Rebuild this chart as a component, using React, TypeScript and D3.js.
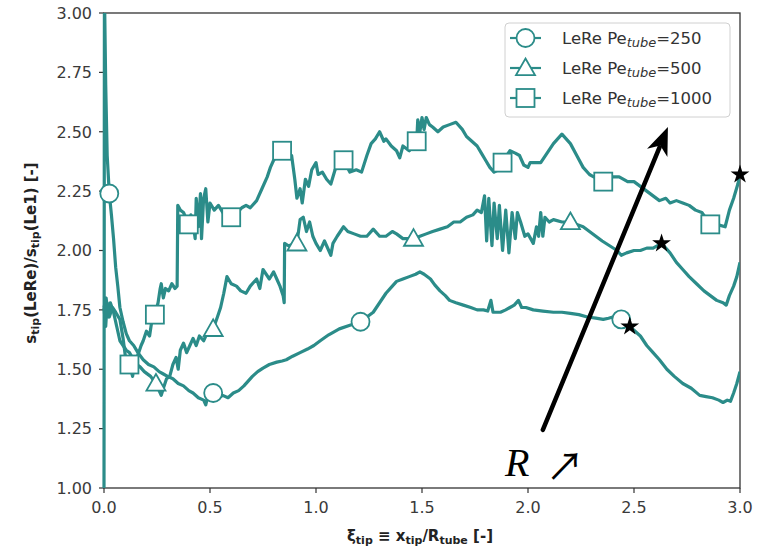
import React from "react";
import * as d3 from "d3";

const xTicks = [0, 0.5, 1.0, 1.5, 2.0, 2.5, 3.0];
const yTicks = [1.0, 1.25, 1.5, 1.75, 2.0, 2.25, 2.5, 2.75, 3.0];

const pe250: [number, number][] = [
[0,1.0],[0.002,3.1],[0.008,2.7],[0.015,2.4],[0.025,2.24],[0.035,2.15],[0.045,2.05],[0.055,1.93],[0.065,1.85],[0.075,1.76],[0.09,1.70],[0.105,1.65],[0.12,1.62],[0.14,1.60],[0.16,1.57],[0.185,1.54],[0.21,1.52],[0.235,1.51],[0.26,1.49],[0.28,1.48],[0.30,1.47],[0.325,1.46],[0.35,1.44],[0.375,1.43],[0.40,1.41],[0.42,1.40],[0.445,1.38],[0.47,1.37],[0.48,1.35],[0.49,1.39],[0.50,1.37],[0.515,1.40],[0.54,1.38],[0.56,1.39],[0.585,1.38],[0.61,1.40],[0.635,1.41],[0.66,1.43],[0.68,1.45],[0.70,1.47],[0.725,1.49],[0.75,1.505],[0.78,1.52],[0.815,1.53],[0.84,1.535],[0.86,1.54],[0.89,1.555],[0.925,1.57],[0.96,1.585],[0.99,1.60],[1.02,1.62],[1.06,1.645],[1.11,1.67],[1.16,1.685],[1.21,1.70],[1.24,1.72],[1.27,1.74],[1.30,1.78],[1.33,1.82],[1.36,1.85],[1.38,1.87],[1.41,1.88],[1.44,1.89],[1.47,1.90],[1.49,1.91],[1.51,1.90],[1.54,1.88],[1.56,1.855],[1.585,1.83],[1.61,1.81],[1.63,1.79],[1.66,1.78],[1.695,1.77],[1.73,1.76],[1.76,1.75],[1.79,1.75],[1.81,1.745],[1.825,1.79],[1.835,1.74],[1.87,1.74],[1.895,1.75],[1.915,1.76],[1.935,1.77],[1.955,1.79],[1.97,1.76],[1.99,1.76],[2.025,1.75],[2.07,1.745],[2.12,1.74],[2.16,1.74],[2.20,1.735],[2.24,1.73],[2.28,1.72],[2.32,1.715],[2.355,1.71],[2.38,1.715],[2.40,1.72],[2.44,1.71],[2.48,1.68],[2.53,1.64],[2.56,1.60],[2.59,1.57],[2.62,1.54],[2.655,1.50],[2.69,1.47],[2.73,1.44],[2.77,1.42],[2.81,1.39],[2.84,1.385],[2.87,1.38],[2.90,1.37],[2.92,1.36],[2.94,1.37],[2.955,1.365],[2.97,1.40],[2.985,1.44],[3.0,1.49]
];

const pe500: [number, number][] = [
[0,1.76],[0.01,1.80],[0.02,1.72],[0.03,1.78],[0.045,1.74],[0.06,1.68],[0.075,1.62],[0.09,1.60],[0.105,1.58],[0.12,1.57],[0.14,1.54],[0.155,1.52],[0.17,1.51],[0.19,1.49],[0.22,1.47],[0.245,1.44],[0.26,1.41],[0.27,1.39],[0.28,1.42],[0.295,1.46],[0.31,1.47],[0.325,1.52],[0.34,1.55],[0.35,1.50],[0.36,1.58],[0.375,1.61],[0.39,1.57],[0.405,1.60],[0.42,1.63],[0.435,1.60],[0.45,1.64],[0.47,1.62],[0.49,1.66],[0.515,1.67],[0.535,1.72],[0.55,1.76],[0.565,1.82],[0.58,1.89],[0.60,1.86],[0.625,1.85],[0.645,1.83],[0.67,1.82],[0.69,1.85],[0.72,1.88],[0.735,1.84],[0.75,1.92],[0.765,1.90],[0.78,1.88],[0.80,1.91],[0.815,1.88],[0.83,1.85],[0.845,1.81],[0.85,1.78],[0.852,2.03],[0.87,2.02],[0.91,2.03],[0.925,2.13],[0.94,2.14],[0.955,2.08],[0.97,2.12],[0.985,2.06],[1.0,2.03],[1.02,2.0],[1.04,2.04],[1.05,2.02],[1.07,1.98],[1.08,2.03],[1.10,2.06],[1.13,2.10],[1.15,2.08],[1.18,2.07],[1.21,2.06],[1.24,2.06],[1.27,2.09],[1.30,2.06],[1.33,2.06],[1.36,2.08],[1.38,2.07],[1.41,2.05],[1.46,2.05],[1.49,2.06],[1.52,2.07],[1.55,2.08],[1.585,2.09],[1.62,2.10],[1.65,2.12],[1.68,2.12],[1.71,2.14],[1.74,2.15],[1.76,2.17],[1.78,2.16],[1.795,2.23],[1.805,2.04],[1.815,2.22],[1.83,2.02],[1.84,2.20],[1.855,2.05],[1.865,2.19],[1.88,2.00],[1.895,2.17],[1.91,1.99],[1.925,2.16],[1.94,2.05],[1.95,2.16],[1.965,2.12],[1.985,2.06],[2.0,2.07],[2.025,2.03],[2.04,2.10],[2.05,2.06],[2.06,2.16],[2.07,2.06],[2.08,2.14],[2.10,2.12],[2.12,2.13],[2.16,2.12],[2.20,2.12],[2.23,2.11],[2.26,2.10],[2.29,2.08],[2.32,2.06],[2.35,2.04],[2.385,2.02],[2.42,2.00],[2.44,1.98],[2.465,1.99],[2.50,2.00],[2.53,2.00],[2.56,2.01],[2.59,2.01],[2.63,2.03],[2.67,1.99],[2.70,1.95],[2.73,1.92],[2.76,1.89],[2.795,1.86],[2.83,1.83],[2.86,1.81],[2.89,1.79],[2.92,1.78],[2.935,1.77],[2.95,1.81],[2.97,1.85],[2.985,1.89],[3.0,1.95]
];

const pe1000: [number, number][] = [
[0,1.76],[0.008,1.68],[0.015,1.78],[0.025,1.72],[0.04,1.76],[0.055,1.74],[0.075,1.71],[0.09,1.63],[0.10,1.56],[0.12,1.52],[0.135,1.47],[0.145,1.53],[0.16,1.56],[0.175,1.60],[0.185,1.62],[0.20,1.66],[0.215,1.64],[0.225,1.70],[0.24,1.73],[0.255,1.78],[0.265,1.84],[0.27,1.86],[0.28,1.80],[0.29,1.84],[0.305,1.83],[0.32,1.86],[0.335,1.84],[0.345,1.85],[0.348,2.19],[0.36,2.17],[0.375,2.16],[0.40,2.11],[0.41,2.15],[0.42,2.12],[0.43,2.05],[0.435,2.22],[0.445,2.10],[0.455,2.24],[0.46,2.05],[0.47,2.22],[0.48,2.26],[0.49,2.12],[0.50,2.20],[0.52,2.17],[0.54,2.19],[0.56,2.16],[0.60,2.14],[0.63,2.16],[0.65,2.18],[0.67,2.19],[0.69,2.18],[0.72,2.21],[0.745,2.26],[0.77,2.31],[0.785,2.35],[0.80,2.38],[0.82,2.40],[0.84,2.42],[0.865,2.40],[0.885,2.40],[0.90,2.30],[0.91,2.22],[0.925,2.26],[0.935,2.20],[0.95,2.30],[0.965,2.27],[0.98,2.34],[1.0,2.37],[1.01,2.32],[1.03,2.33],[1.05,2.30],[1.07,2.28],[1.09,2.34],[1.13,2.38],[1.16,2.33],[1.19,2.34],[1.215,2.33],[1.24,2.40],[1.26,2.45],[1.28,2.47],[1.30,2.50],[1.32,2.46],[1.33,2.47],[1.355,2.44],[1.38,2.42],[1.395,2.39],[1.41,2.44],[1.44,2.42],[1.475,2.46],[1.48,2.55],[1.49,2.50],[1.50,2.56],[1.51,2.51],[1.52,2.56],[1.535,2.53],[1.55,2.52],[1.575,2.50],[1.60,2.52],[1.63,2.53],[1.66,2.54],[1.69,2.51],[1.71,2.48],[1.735,2.46],[1.76,2.44],[1.78,2.41],[1.80,2.38],[1.82,2.35],[1.84,2.33],[1.86,2.34],[1.88,2.37],[1.90,2.40],[1.915,2.42],[1.94,2.41],[1.96,2.40],[1.98,2.36],[2.0,2.35],[2.01,2.37],[2.04,2.37],[2.06,2.37],[2.09,2.41],[2.12,2.45],[2.16,2.49],[2.18,2.47],[2.20,2.45],[2.23,2.40],[2.26,2.35],[2.29,2.32],[2.31,2.31],[2.355,2.29],[2.39,2.31],[2.43,2.31],[2.47,2.29],[2.50,2.29],[2.53,2.27],[2.56,2.25],[2.59,2.23],[2.62,2.21],[2.65,2.22],[2.67,2.20],[2.70,2.21],[2.73,2.20],[2.76,2.19],[2.79,2.17],[2.82,2.16],[2.86,2.11],[2.89,2.11],[2.93,2.10],[2.95,2.17],[2.97,2.22],[2.99,2.28],[3.0,2.32]
];

const markers250 = [0.025, 0.515, 1.21, 2.44];
const markers500 = [0.245, 0.515, 0.91, 1.46, 2.2];
const markers1000 = [0.12, 0.24, 0.4, 0.6, 0.84, 1.13, 1.475, 1.88, 2.355, 2.86];
const stars = [
  { series: 0, x: 2.48 },
  { series: 1, x: 2.63 },
  { series: 2, x: 3.0 },
];
const legendLabels = ["250", "500", "1000"];
const arrowFrom: [number, number] = [2.07, 1.245];
const arrowTo: [number, number] = [2.66, 2.52];

const COLOR = "#2b8c89";
const W = 765, H = 549;
const L = 104, R = 740, T = 13, B = 488;

const x = d3.scaleLinear().domain([0, 3]).range([L, R]);
const y = d3.scaleLinear().domain([1, 3]).range([B, T]);

function interp(data: [number, number][], xv: number) {
  const bis = d3.bisector((d: [number, number]) => d[0]).left;
  const i = bis(data, xv);
  if (i <= 0) return data[0][1];
  if (i >= data.length) return data[data.length - 1][1];
  const a = data[i - 1], b = data[i];
  const t = (xv - a[0]) / (b[0] - a[0] || 1);
  return a[1] + t * (b[1] - a[1]);
}

function Marker({ kind, cx, cy }: { kind: string; cx: number; cy: number }) {
  const s = 9;
  if (kind === "circle")
    return <circle cx={cx} cy={cy} r={s} fill="white" stroke={COLOR} strokeWidth={1.8} />;
  if (kind === "square")
    return <rect x={cx - s} y={cy - s} width={2 * s} height={2 * s} fill="white" stroke={COLOR} strokeWidth={1.8} />;
  const h = 9.5;
  return (
    <polygon
      points={`${cx},${cy - h} ${cx + h},${cy + h * 0.75} ${cx - h},${cy + h * 0.75}`}
      fill="white" stroke={COLOR} strokeWidth={1.8}
    />
  );
}

export default function App() {
  const series = [
    { data: pe250, markers: markers250, kind: "circle" },
    { data: pe500, markers: markers500, kind: "triangle" },
    { data: pe1000, markers: markers1000, kind: "square" },
  ];
  const line = d3.line<[number, number]>().x((d) => x(d[0])).y((d) => y(d[1]));
  const star = d3.symbol().type(d3.symbolStar).size(110)()!;
  const font = "DejaVu Sans, sans-serif";

  const ax0 = x(arrowFrom[0]), ay0 = y(arrowFrom[1]);
  const ax1 = x(arrowTo[0]), ay1 = y(arrowTo[1]);
  const ang = Math.atan2(ay1 - ay0, ax1 - ax0);
  const headL = 28, headW = 11;
  const bx = ax1 - headL * Math.cos(ang), by = ay1 - headL * Math.sin(ang);
  const px = -Math.sin(ang), py = Math.cos(ang);
  const shaftEnd = [ax1 - (headL - 6) * Math.cos(ang), ay1 - (headL - 6) * Math.sin(ang)];

  return (
    <svg width={W} height={H} style={{ position: "absolute", left: 0, top: 0, background: "white" }}>
      <defs>
        <clipPath id="plot">
          <rect x={L - 2} y={T} width={R - L + 2} height={B - T} />
        </clipPath>
      </defs>
      {yTicks.map((t) => (
        <g key={"y" + t}>
          <line x1={L - 5} x2={L} y1={y(t)} y2={y(t)} stroke="#333" strokeWidth={1.2} />
          <text x={L - 12} y={y(t)} dy="0.36em" textAnchor="end" fontSize={16} fontFamily={font} fill="#3a3a3a">
            {d3.format(".2f")(t)}
          </text>
        </g>
      ))}
      {xTicks.map((t) => (
        <g key={"x" + t}>
          <line x1={x(t)} x2={x(t)} y1={B} y2={B + 5} stroke="#333" strokeWidth={1.2} />
          <text x={x(t)} y={B + 25} textAnchor="middle" fontSize={16} fontFamily={font} fill="#3a3a3a">
            {d3.format(".1f")(t)}
          </text>
        </g>
      ))}
      <rect x={L} y={T} width={R - L} height={B - T} fill="none" stroke="#333" strokeWidth={1.3} />

      <g clipPath="url(#plot)">
        {series.map((s, i) => (
          <path key={i} d={line(s.data)!} fill="none" stroke={COLOR} strokeWidth={3.2} strokeLinejoin="round" />
        ))}
      </g>
      {series.map((s, i) =>
        s.markers.map((mx, j) => (
          <Marker key={i + "-" + j} kind={s.kind} cx={x(mx)} cy={y(interp(s.data, mx))} />
        ))
      )}
      {stars.map((st, i) => (
        <path key={"s" + i} d={star} fill="black"
          transform={`translate(${x(st.x)},${y(interp(series[st.series].data, st.x))})`} />
      ))}

      <g>
        <rect x={505} y={23} width={225} height={94} rx={4} fill="white" fillOpacity={0.85} stroke="#d0d0d0" strokeWidth={1} />
        {series.map((s, i) => {
          const cy = 38 + i * 30;
          return (
            <g key={"lg" + i}>
              <line x1={510} x2={541} y1={cy} y2={cy} stroke={COLOR} strokeWidth={2.2} />
              <Marker kind={s.kind} cx={525.5} cy={cy} />
              <text x={562} y={cy} dy="0.36em" fontSize={16.5} fontFamily={font} fill="#333">
                LeRe Pe
                <tspan fontStyle="italic" fontSize={13} dy="3">tube</tspan>
                <tspan dy="-3">={legendLabels[i]}</tspan>
              </text>
            </g>
          );
        })}
      </g>

      <line x1={ax0} y1={ay0} x2={shaftEnd[0]} y2={shaftEnd[1]} stroke="black" strokeWidth={4.5} strokeLinecap="round" />
      <polygon
        points={`${ax1},${ay1} ${bx + px * headW},${by + py * headW} ${ax1 - (headL - 8) * Math.cos(ang)},${ay1 - (headL - 8) * Math.sin(ang)} ${bx - px * headW},${by - py * headW}`}
        fill="black"
      />
      <text x={505} y={476} fontSize={40} fontStyle="italic" fontFamily="Liberation Serif, serif" fill="black">R</text>
      <text x={546} y={480} fontSize={38} fontFamily="Noto Sans CJK SC, DejaVu Sans, sans-serif" fill="black">↗</text>

      <text x={420} y={541} textAnchor="middle" fontSize={15} fontWeight="bold" fontFamily={font} fill="#222">
        ξ<tspan fontSize={11} dy="3">tip</tspan>
        <tspan dy="-3"> ≡ x</tspan>
        <tspan fontSize={11} dy="3">tip</tspan>
        <tspan dy="-3">/R</tspan>
        <tspan fontSize={11} dy="3">tube</tspan>
        <tspan dy="-3"> [-]</tspan>
      </text>
      <text transform="translate(36,253) rotate(-90)" textAnchor="middle" fontSize={15} fontWeight="bold" fontFamily={font} fill="#222">
        s<tspan fontSize={11} dy="3">tip</tspan>
        <tspan dy="-3">(LeRe)/s</tspan>
        <tspan fontSize={11} dy="3">tip</tspan>
        <tspan dy="-3">(Le1) [-]</tspan>
      </text>
    </svg>
  );
}
